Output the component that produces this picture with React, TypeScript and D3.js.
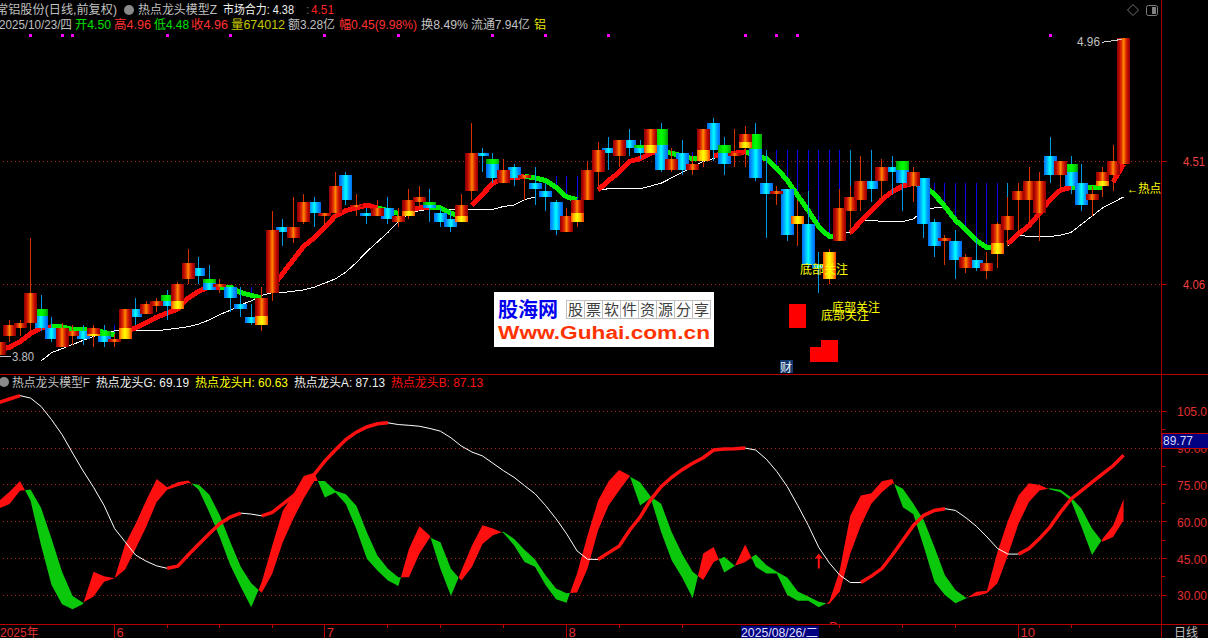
import React, { useEffect, useRef } from 'react';
import * as d3 from 'd3';

const WIDTH = 1208;
const HEIGHT = 638;
const AXIS_X = 1161.5;
const FONT = '"Liberation Sans","Noto Sans CJK SC",sans-serif';

// daily candles
const opens = [3.80,3.87,3.90,3.92,3.97,3.90,3.83,3.87,3.89,3.87,3.89,3.85,3.86,3.97,3.95,3.98,4.02,3.97,4.08,4.12,4.08,4.05,4.05,3.99,3.94,3.91,4.03,4.27,4.23,4.29,4.36,4.31,4.32,4.46,4.35,4.32,4.31,4.34,4.29,4.31,4.36,4.36,4.32,4.30,4.29,4.40,4.54,4.52,4.43,4.49,4.45,4.43,4.40,4.36,4.25,4.29,4.37,4.47,4.56,4.53,4.59,4.57,4.54,4.63,4.48,4.54,4.48,4.51,4.65,4.57,4.53,4.56,4.61,4.43,4.39,4.41,4.28,4.28,4.13,4.08,4.22,4.33,4.37,4.44,4.44,4.49,4.51,4.42,4.45,4.29,4.22,4.22,4.12,4.15,4.11,4.17,4.26,4.37,4.37,4.32,4.53,4.46,4.50,4.43,4.37,4.42,4.46,4.50];
const closes = [3.85,3.91,3.92,4.03,3.90,3.86,3.90,3.89,3.86,3.90,3.85,3.86,3.97,3.94,3.99,4.00,3.98,4.06,4.14,4.09,4.04,4.06,4.01,3.97,3.92,4.01,4.26,4.25,4.27,4.36,4.32,4.32,4.42,4.37,4.35,4.31,4.34,4.30,4.31,4.37,4.38,4.34,4.29,4.27,4.35,4.54,4.53,4.45,4.48,4.45,4.46,4.41,4.38,4.26,4.31,4.37,4.48,4.55,4.54,4.59,4.56,4.54,4.63,4.48,4.52,4.48,4.50,4.63,4.55,4.50,4.54,4.61,4.45,4.39,4.40,4.24,4.31,4.13,4.12,4.18,4.34,4.38,4.44,4.41,4.49,4.47,4.43,4.47,4.28,4.20,4.23,4.15,4.16,4.12,4.14,4.28,4.31,4.40,4.44,4.44,4.46,4.51,4.42,4.35,4.39,4.47,4.51,4.96];
const highs = [3.85,3.93,3.93,4.23,4.02,3.94,3.92,3.91,3.91,3.91,3.91,3.88,3.97,4.01,4.00,4.01,4.04,4.07,4.19,4.16,4.13,4.08,4.05,4.05,3.99,4.05,4.33,4.30,4.38,4.39,4.38,4.32,4.47,4.47,4.39,4.34,4.37,4.38,4.34,4.41,4.42,4.41,4.34,4.33,4.39,4.65,4.56,4.54,4.52,4.50,4.46,4.49,4.43,4.37,4.34,4.37,4.51,4.58,4.60,4.59,4.63,4.59,4.63,4.65,4.56,4.59,4.53,4.63,4.67,4.60,4.63,4.64,4.65,4.55,4.42,4.41,4.37,4.40,4.18,4.19,4.41,4.42,4.53,4.55,4.52,4.53,4.51,4.49,4.45,4.30,4.24,4.26,4.17,4.23,4.18,4.29,4.38,4.43,4.49,4.47,4.60,4.51,4.53,4.50,4.42,4.49,4.57,4.96];
const lows = [3.80,3.85,3.87,3.89,3.89,3.85,3.83,3.84,3.84,3.83,3.83,3.83,3.86,3.91,3.95,3.96,3.93,3.96,4.06,4.06,4.04,4.03,3.96,3.94,3.91,3.89,4.00,4.20,4.21,4.28,4.27,4.27,4.30,4.35,4.31,4.28,4.31,4.28,4.27,4.30,4.34,4.29,4.27,4.25,4.29,4.37,4.47,4.43,4.43,4.42,4.37,4.35,4.33,4.24,4.25,4.27,4.37,4.40,4.48,4.49,4.53,4.52,4.54,4.47,4.47,4.46,4.46,4.49,4.51,4.46,4.49,4.49,4.44,4.23,4.35,4.22,4.20,4.12,4.03,4.06,4.22,4.24,4.33,4.36,4.36,4.39,4.33,4.36,4.23,4.16,4.13,4.08,4.10,4.11,4.08,4.12,4.20,4.24,4.28,4.22,4.43,4.41,4.39,4.33,4.31,4.38,4.40,4.50];

// yellow foot on up candles, green cap on down candles
const accentIndex = [4,9,10,12,16,17,20,25,39,41,44,47,55,61,62,63,67,69,71,72,76,79,86,95,102,105];
const accentLevel = [3.945,3.88,3.87,3.90,4.00,4.00,4.065,3.945,4.33,4.35,4.31,4.50,4.32,4.56,4.57,4.57,4.55,4.54,4.58,4.555,4.31,4.18,4.48,4.21,4.47,4.44];

// thick trend line; the spans say where it shows and in which colour
const trendLine = [3.82,3.83,3.85,3.88,3.90,3.905,3.905,3.895,3.895,3.89,3.885,3.875,3.89,3.90,3.92,3.94,3.955,3.97,4.01,4.035,4.05,4.05,4.05,4.03,4.02,4.01,4.05,4.10,4.15,4.20,4.23,4.27,4.31,4.33,4.34,4.35,4.34,4.33,4.32,4.33,4.34,4.34,4.34,4.32,4.31,4.35,4.39,4.43,4.45,4.45,4.455,4.45,4.44,4.415,4.38,4.37,4.38,4.405,4.44,4.47,4.51,4.52,4.54,4.545,4.54,4.53,4.52,4.52,4.53,4.54,4.54,4.545,4.53,4.52,4.485,4.44,4.385,4.33,4.27,4.235,4.235,4.25,4.29,4.33,4.37,4.40,4.42,4.43,4.42,4.39,4.345,4.295,4.26,4.22,4.195,4.19,4.21,4.245,4.275,4.32,4.37,4.405,4.415,4.415,4.415,4.415,4.435,4.50];
const redSpans = [[0,5],[12,21],[26,36],[39,41],[45,50],[57,63],[68,71],[81,87],[96,102],[106,107]];
const greenSpans = [[5,11],[21,25],[36,38],[41,44],[50,55],[63,67],[71,80],[87,95],[102,105]];
const n = null;
const whiteLine = [n,n,n,n,3.78,3.81,3.825,3.84,3.855,3.87,3.88,3.89,3.89,3.89,3.89,3.89,3.895,3.90,3.905,3.915,3.93,3.95,3.965,3.985,4.00,4.02,4.03,4.03,4.035,4.04,4.05,4.065,4.08,4.105,4.14,4.18,4.215,4.25,4.29,4.32,4.33,4.335,4.335,4.335,4.335,4.335,4.335,4.335,4.345,4.35,4.37,4.38,n,n,n,n,n,4.405,4.41,4.41,4.41,4.41,4.42,4.43,4.45,4.47,4.49,4.51,4.52,4.535,4.535,4.54,4.54,n,n,n,n,n,n,n,4.245,4.25,4.295,4.295,4.29,4.29,4.29,4.30,4.33,4.34,4.34,n,n,n,n,n,4.20,4.24,4.235,4.235,4.235,4.24,4.25,4.28,4.31,4.34,4.36,4.38];

const streakIndex = [10,11,24,25,53,54,55,66,73,74,75,76,77,78,79,80,89,90,91,92,93,94,95];
const streakTop = [3.91,3.91,4.05,4.05,4.455,4.455,4.455,4.545,4.55,4.55,4.55,4.55,4.55,4.55,4.55,4.55,4.43,4.43,4.43,4.43,4.43,4.43,4.43];
const cyanIndex = [57,81,96,97];
const cyanTop = [4.455,4.55,4.43,4.43];

const signalIndex = [3,6,7,16,22,31,38,47,52,58,71,74,76,100];
const blockIndex = [76,78,79];
const blockTop = [3.99,3.83,3.855];
const blockBottom = [3.90,3.775,3.775];

// lower panel
const fastLine = [68.5,72.2,76.6,68.6,50.4,34.2,26.4,24.3,26.5,39.6,37.8,36.9,50.8,59.2,68.6,77.4,74,76.1,76.8,73,63.9,53.8,42.3,33.5,25.1,35.4,50.3,64.5,71.2,78.6,80,69.9,71.9,67.2,57,44.9,40.1,36,33.8,48.9,58.1,54.3,40.8,29.7,40.1,50.3,58.6,57.2,55.4,50.4,43.6,41.6,34.2,28.4,27,38.9,54.5,68.6,76.5,81.1,78.8,66.6,69.7,55.8,44.3,37.3,28.8,47,49.7,39.3,41.9,50.7,41.6,38.9,38.9,30.1,27.8,27.8,25.1,27.4,40.3,62.5,70.7,71.6,76.5,77.4,65.9,63,49.7,35.5,30.1,26.8,28.7,31.4,31.9,47.7,60.5,70.7,75.7,75,73.1,72,68.6,57.8,46.4,53.1,58.5,69.19];
const slowLine = [65.4,67.2,72.6,73.1,65.7,53.1,39.6,29.7,27,29.5,35.5,36.9,40.5,49,57.8,68,73,74.5,75.8,75.1,71.1,62.6,51.8,41.6,34.9,31,38.8,51.6,61.1,69.5,76.6,76.6,72.6,71.2,66.5,55.7,46.2,40.8,37.4,37.4,46.9,53.6,51.6,40.8,36,41.5,50.9,54.5,55.9,53.1,48.6,44.6,38.2,32.8,30.8,31.1,40.9,56.5,66.6,72.7,78.4,76.1,70.3,67.3,55.8,46.8,39.6,36.2,43.6,45.7,42,43.6,46.6,42.3,39.6,37.3,31.5,29.5,27.4,26.5,31.5,47,58.5,67.3,72,75.7,73.4,67.3,60.5,49.7,38.2,32.2,29,29.7,30.8,34.9,46.4,59.2,68,72.7,73.6,73,70,65.3,57.2,51.8,53.8,60.63];
const swingLine = [108.6,110,111.4,110.4,107,101.6,95.5,88,80.7,74,66.6,57.2,51.8,46.4,43.9,42,41,41.9,46.4,50.8,55.1,59.2,61.9,63.5,63.1,62.4,63.8,67.2,70.5,73.9,79.3,84.7,89.2,93.5,96.5,98.6,99.9,100.3,99.6,99.3,98.9,98,96.9,94.2,90.8,88.4,86.8,83.8,80.8,78.1,74.7,71.4,66.6,61.2,55.1,48.1,44.7,44.6,47.4,50,56.5,61.9,68.9,74.3,78.1,81.2,83.8,86.1,89.2,89.6,89.7,90,89.2,85.5,80.5,74.3,66.6,58.5,49.5,43.2,38.2,35.2,35.2,37.8,40.9,46.4,52.4,58.5,62.6,64.6,65.3,64.6,61.6,58.1,53.8,49.1,46.8,46.8,49.1,53.1,57.8,63.9,69.3,72.7,76.1,79.5,82.8,87.13];

const priceTicks = [4.51, 4.06];
const oscTicks = [105, 90, 75, 60, 45, 30];
const oscTickLabels = ['105.0', '90.00', '75.00', '60.00', '45.00', '30.00'];
const oscMinorTicks = [97.5, 82.5, 67.5, 52.5, 37.5];
const monthIndex = [11, 31, 54, 97];
const monthLabels = ['6', '7', '8', '10'];
const minorDayIndex = [16, 21, 26, 37, 42, 48, 59, 65, 80, 86, 91, 102];

const headerTop = [
  { text: '常铝股份(日线,前复权)', color: '#c0c0c0', x: -4, w: 121 },
  { text: '热点龙头模型Z', color: '#c0c0c0', x: 138, w: 79 },
  { text: '市场合力: 4.38', color: '#f0f0f0', x: 223, w: 71 },
  { text: '4.51', color: '#ff2020', x: 311, w: 23 },
];
const headerQuote = [
  { text: '2025/10/23/四', color: '#c0c0c0', x: -1, w: 73 },
  { text: '开4.50', color: '#00e000', x: 75, w: 36 },
  { text: '高4.96', color: '#ff3030', x: 114, w: 37 },
  { text: '低4.48', color: '#00e000', x: 154, w: 35 },
  { text: '收4.96', color: '#ff3030', x: 191, w: 37 },
  { text: '量674012', color: '#c8c800', x: 231, w: 54 },
  { text: '额3.28亿', color: '#c0c0c0', x: 288, w: 47 },
  { text: '幅0.45(9.98%)', color: '#ff3030', x: 339, w: 78 },
  { text: '换8.49%', color: '#c0c0c0', x: 421, w: 47 },
  { text: '流通7.94亿', color: '#c0c0c0', x: 471, w: 59 },
  { text: '铝', color: '#e8e800', x: 534, w: 12 },
];
const headerLower = [
  { text: '热点龙头模型F', color: '#c0c0c0', x: 12, w: 78 },
  { text: '热点龙头G: 69.19', color: '#f0f0f0', x: 96, w: 93 },
  { text: '热点龙头H: 60.63', color: '#ffff00', x: 195, w: 93 },
  { text: '热点龙头A: 87.13', color: '#f0f0f0', x: 294, w: 91 },
  { text: '热点龙头B: 87.13', color: '#ff1010', x: 391, w: 92 },
];

const App = () => {
  const svgRef = useRef<SVGSVGElement>(null);

  useEffect(() => {
    document.body.style.margin = '0';
    document.body.style.background = '#000';

    const svg = d3.select(svgRef.current)
      .attr('width', WIDTH)
      .attr('height', HEIGHT)
      .style('display', 'block')
      .style('background', '#000');
    svg.selectAll('*').remove();

    const x = d3.scaleLinear().domain([0, 107]).range([-1, 1123.6]);
    const y = d3.scaleLinear().domain([4.06, 4.51]).range([284.4, 161.4]);
    const yo = d3.scaleLinear().domain([30, 105]).range([595.3, 411.3]);

    const defs = svg.append('defs');
    const addGradient = (id: string, stops: string[]) => {
      const g = defs.append('linearGradient').attr('id', id);
      stops.forEach((c, i) => g.append('stop')
        .attr('offset', i / (stops.length - 1))
        .attr('stop-color', c));
    };
    addGradient('upBody', ['#8c0000', '#b80800', '#e03000', '#ff8a00', '#e03000', '#b80800', '#8c0000']);
    addGradient('downBody', ['#0068f0', '#00a8ff', '#00ffff', '#00a0ff', '#0068f0']);
    addGradient('footBody', ['#ff4000', '#ffc000', '#ffff00', '#ffc000', '#ff4000']);
    addGradient('capBody', ['#00a000', '#00e000', '#00ff00', '#00e000', '#00a000']);
    defs.append('clipPath').attr('id', 'lowerClip').append('rect')
      .attr('x', 0).attr('y', 375).attr('width', AXIS_X).attr('height', 249);

    const label = (px: number, py: number, text: string, color: string, size = 12, length?: number) => {
      const t = svg.append('text')
        .attr('x', px).attr('y', py)
        .attr('fill', color)
        .attr('font-family', FONT)
        .attr('font-size', size)
        .text(text);
      if (length) t.attr('textLength', length).attr('lengthAdjust', 'spacingAndGlyphs');
      return t;
    };

    // frame
    const rule = (x1: number, y1: number, x2: number, y2: number, color = '#b80000') =>
      svg.append('line')
        .attr('x1', x1).attr('y1', y1).attr('x2', x2).attr('y2', y2)
        .attr('stroke', color)
        .attr('shape-rendering', 'crispEdges');
    const gridLine = (py: number) => {
      rule(3, py, AXIS_X, py, '#b02020').attr('stroke-dasharray', '1 3');
      rule(AXIS_X, py, AXIS_X + 5, py);
    };
    priceTicks.forEach(v => gridLine(y(v)));
    oscTicks.forEach(v => gridLine(yo(v)));
    oscMinorTicks.forEach(v => rule(AXIS_X, yo(v), AXIS_X + 3, yo(v)));
    rule(0, 374.5, WIDTH, 374.5);
    rule(0, 624.5, WIDTH, 624.5);
    rule(AXIS_X, 0, AXIS_X, HEIGHT, '#a80000');

    // upper panel: streaks and lines sit under the candles
    const stick = (i: number, top: number, bottom: number, color: string) =>
      svg.append('line')
        .attr('x1', x(i)).attr('x2', x(i))
        .attr('y1', y(top)).attr('y2', y(bottom))
        .attr('stroke', color)
        .attr('shape-rendering', 'crispEdges');
    streakIndex.forEach((i, k) => stick(i, streakTop[k], trendLine[i], '#0808e8'));
    cyanIndex.forEach((i, k) => stick(i, cyanTop[k], trendLine[i], '#0098d8'));

    const whitePath = d3.line<number | null>()
      .defined(d => d !== null)
      .x((_, i) => x(i))
      .y(d => y(d as number));
    svg.append('path')
      .attr('d', whitePath(whiteLine))
      .attr('fill', 'none')
      .attr('stroke', '#ffffff')
      .attr('shape-rendering', 'crispEdges');

    const trendPath = d3.line<number>().x(i => x(i)).y(i => y(trendLine[i]));
    const drawSpans = (spans: number[][], color: string) => spans.forEach(([a, b]) => {
      svg.append('path')
        .attr('d', trendPath(d3.range(a, b + 1)))
        .attr('fill', 'none')
        .attr('stroke', color)
        .attr('stroke-width', 5)
        .attr('shape-rendering', 'crispEdges');
    });
    drawSpans(greenSpans, '#00ee00');
    drawSpans(redSpans, '#ff0a0a');

    // candles: down ones first, the up ones cover their neighbours
    const indices = d3.range(opens.length);
    const order = [
      ...indices.filter(i => closes[i] < opens[i]),
      ...indices.filter(i => closes[i] >= opens[i]),
    ];
    order.forEach(i => {
      const up = closes[i] >= opens[i];
      const top = Math.max(opens[i], closes[i]);
      const bottom = Math.min(opens[i], closes[i]);
      stick(i, highs[i], lows[i], up ? '#d83000' : '#0098e0');
      const body = (a: number, b: number, fill: string) =>
        svg.append('rect')
          .attr('x', x(i) - 6.5)
          .attr('y', y(a))
          .attr('width', 13)
          .attr('height', Math.max(y(b) - y(a), 2))
          .attr('fill', `url(#${fill})`)
          .attr('shape-rendering', 'crispEdges');
      body(top, bottom, up ? 'upBody' : 'downBody');
      const k = accentIndex.indexOf(i);
      if (k >= 0) {
        if (up) body(accentLevel[k], bottom, 'footBody');
        else body(top, accentLevel[k], 'capBody');
      }
    });

    // signals and blocks
    svg.append('g').selectAll('rect')
      .data(signalIndex)
      .join('rect')
      .attr('x', d => x(d) - 1.5)
      .attr('y', 33.5)
      .attr('width', 3)
      .attr('height', 3)
      .attr('fill', '#ff00ff')
      .attr('shape-rendering', 'crispEdges');
    svg.append('g').selectAll('rect')
      .data(blockIndex)
      .join('rect')
      .attr('x', d => x(d) - 8.5)
      .attr('y', (_, k) => y(blockTop[k]))
      .attr('width', 17)
      .attr('height', (_, k) => y(blockBottom[k]) - y(blockTop[k]))
      .attr('fill', '#ff0000')
      .attr('shape-rendering', 'crispEdges');

    // watermark
    const logo = svg.append('g');
    logo.append('rect').attr('x', 494).attr('y', 292).attr('width', 220).attr('height', 55).attr('fill', '#fff');
    logo.append('text')
      .attr('x', 498).attr('y', 317)
      .attr('fill', '#0000f0')
      .attr('font-family', '"Noto Sans CJK SC"')
      .attr('font-weight', 700)
      .attr('font-size', 20)
      .text('股海网');
    '股票软件资源分享'.split('').forEach((c, k) => {
      const cx = 566 + k * 18;
      logo.append('rect')
        .attr('x', cx + 0.5).attr('y', 300.5).attr('width', 18).attr('height', 18)
        .attr('fill', 'none').attr('stroke', '#c0c0c0');
      logo.append('text')
        .attr('x', cx + 2).attr('y', 315)
        .attr('fill', '#404040')
        .attr('font-family', '"Noto Sans CJK SC"')
        .attr('font-size', 15)
        .text(c);
    });
    logo.append('text')
      .attr('x', 498).attr('y', 339)
      .attr('fill', '#ff3300')
      .attr('font-family', FONT)
      .attr('font-weight', 700)
      .attr('font-size', 18)
      .attr('textLength', 212)
      .attr('lengthAdjust', 'spacingAndGlyphs')
      .text('Www.Guhai.com.cn');

    // lower panel: the ribbon splits into runs where the two lines cross
    const lower = svg.append('g').attr('clip-path', 'url(#lowerClip)');
    type RibbonPoint = { i: number; fast: number; slow: number };
    const runs: { up: boolean; points: RibbonPoint[] }[] = [];
    let run: RibbonPoint[] = [];
    fastLine.forEach((fast, i) => {
      const slow = slowLine[i];
      const point = { i, fast, slow };
      if (i > 0) {
        const d0 = fastLine[i - 1] - slowLine[i - 1];
        const d1 = fast - slow;
        if ((d0 >= 0) !== (d1 >= 0)) {
          const t = d0 / (d0 - d1);
          const v = fastLine[i - 1] + (fast - fastLine[i - 1]) * t;
          const cross = { i: i - 1 + t, fast: v, slow: v };
          run.push(cross);
          runs.push({ up: d0 >= 0, points: run });
          run = [cross];
        }
      }
      run.push(point);
    });
    runs.push({ up: fastLine[107] >= slowLine[107], points: run });

    const ribbon = d3.area<RibbonPoint>()
      .x(d => x(d.i))
      .y0(d => yo(d.slow))
      .y1(d => yo(d.fast));
    runs.forEach(r => {
      lower.append('path')
        .attr('d', ribbon(r.points))
        .attr('fill', r.up ? '#ff1010' : '#0cc80c');
    });

    // swing line is thick red while rising and thin white while falling
    const swingPath = d3.line<number>().x(i => x(i)).y(i => yo(swingLine[i]));
    const rising = (i: number) => swingLine[i + 1] > swingLine[i];
    let start = 0;
    for (let i = 1; i < swingLine.length; i++) {
      if (i === swingLine.length - 1 || rising(i) !== rising(start)) {
        lower.append('path')
          .attr('d', swingPath(d3.range(start, i + 1)))
          .attr('fill', 'none')
          .attr('stroke', rising(start) ? '#ff1010' : '#ffffff')
          .attr('stroke-width', rising(start) ? 3.5 : 1);
        start = i;
      }
    }

    // arrow and the cut off letter near the low of August
    const arrowAt = x(78);
    lower.append('path')
      .attr('d', `M${arrowAt},${yo(47)}l-4,5h3v10h2v-10h3z`)
      .attr('fill', '#ff1010');
    lower.append('text')
      .attr('x', x(79)).attr('y', 631)
      .attr('fill', '#ff2020')
      .attr('font-family', FONT)
      .attr('font-size', 12)
      .text('D');

    // headers
    headerTop.forEach(h => label(h.x, 14, h.text, h.color, 12, h.w));
    label(306, 14, ':', '#707070');
    headerQuote.forEach(h => label(h.x, 29, h.text, h.color, 12, h.w));
    headerLower.forEach(h => label(h.x, 387, h.text, h.color, 12, h.w));
    const badge = (cx: number, cy: number) => svg.append('circle')
      .attr('cx', cx).attr('cy', cy).attr('r', 5)
      .attr('fill', '#8a8a8a');
    badge(129, 10);
    badge(4, 382);

    // corner icons
    svg.append('path')
      .attr('d', 'M1133,4.5l5.5,5.5l-5.5,5.5l-5.5,-5.5z')
      .attr('fill', 'none')
      .attr('stroke', '#707070');
    svg.append('rect')
      .attr('x', 1146.5).attr('y', 5.5).attr('width', 11).attr('height', 10).attr('rx', 2)
      .attr('fill', 'none').attr('stroke', '#808080');
    svg.append('rect')
      .attr('x', 1152).attr('y', 7).attr('width', 4).attr('height', 7)
      .attr('fill', '#808080');

    // axis labels
    priceTicks.forEach(v => label(1183, y(v) + 5, v.toFixed(2), '#f04040', 13.5, 22));
    oscTicks.forEach((v, k) => label(1177, yo(v) + 5, oscTickLabels[k], '#e03030', 13, 30));

    svg.append('rect')
      .attr('x', 1162).attr('y', 433.5).attr('width', 47).attr('height', 15)
      .attr('fill', '#000080').attr('stroke', '#c00000');
    label(1163, 445, '89.77', '#d8d8ff', 13, 30);

    monthIndex.forEach((i, k) => {
      rule(x(i), 624, x(i), HEIGHT);
      label(x(i) + 2, 637, monthLabels[k], '#e03030', 13);
    });
    minorDayIndex.forEach(i => rule(x(i), 624, x(i), 628));
    label(0, 637, '2025年', '#e03030', 12);

    svg.append('rect')
      .attr('x', 741).attr('y', 626).attr('width', 78).attr('height', 12)
      .attr('fill', '#000080');
    label(741, 637, '2025/08/26/二', '#e0e0ff', 12, 77);
    label(1174, 637, '日线', '#c0c0c0', 12);

    // annotations on the chart
    rule(0, y(3.80) + 1, 11, y(3.80) + 1, '#c0c0c0');
    label(12, y(3.80) + 6, '3.80', '#c0c0c0', 13, 22);
    rule(x(107) - 22, y(4.96) + 4, x(107) - 2, y(4.96) + 1, '#d0d0d0');
    label(1077, y(4.96) + 8, '4.96', '#c0c0c0', 13, 23);
    label(1127, 193, '←热点', '#ffff00', 12, 34);

    svg.append('rect')
      .attr('x', 780).attr('y', 360).attr('width', 13).attr('height', 13)
      .attr('fill', '#103a70');
    label(780, 371.5, '财', '#f0f0f0', 12);

    label(800, 274, '底部关注', '#ffff00', 12);
    label(832, 312, '底部关注', '#ffff00', 12);
    label(821, 320, '底部关注', '#ffff00', 12);
  }, []);

  return <svg ref={svgRef}></svg>;
};

export default App;
